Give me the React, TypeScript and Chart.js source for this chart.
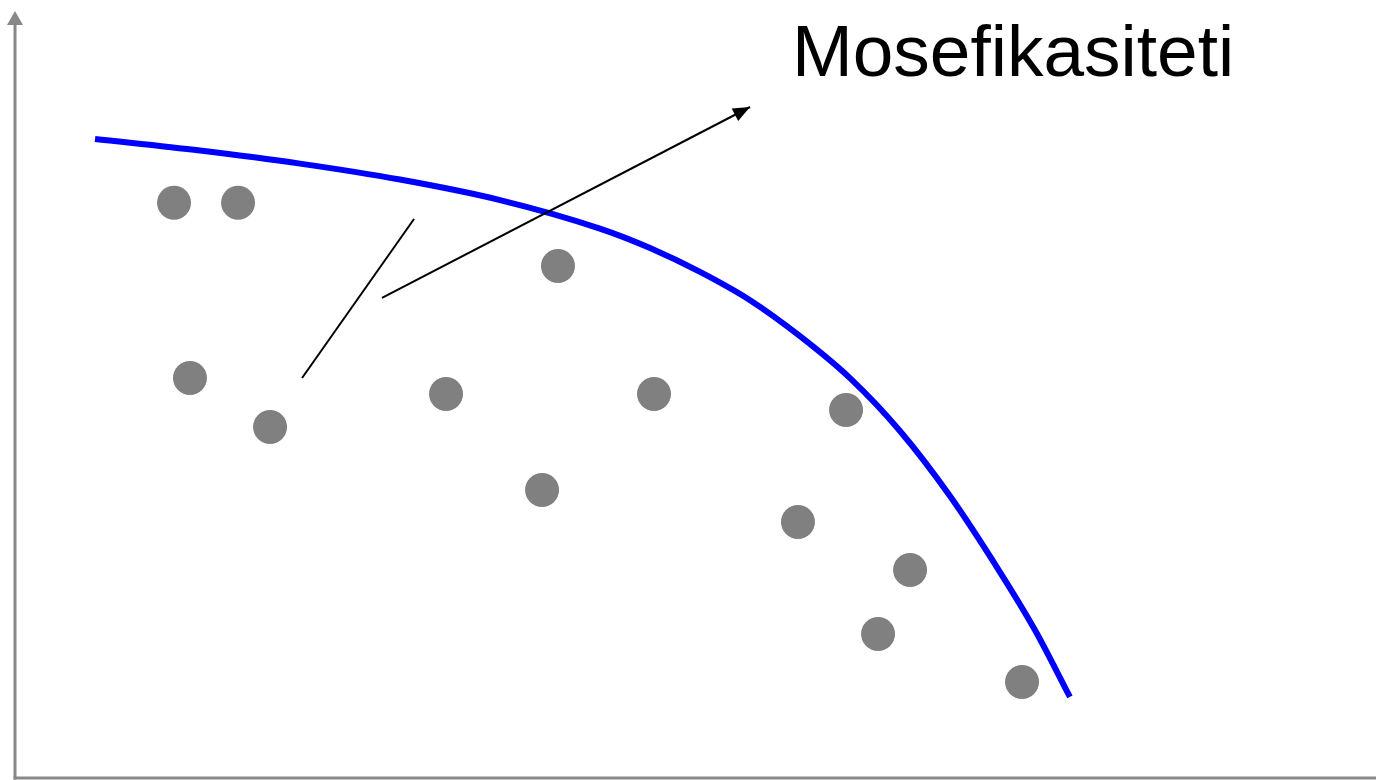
import React, { useEffect, useRef } from "react";
import { Chart, registerables } from "chart.js";

Chart.register(...registerables);

// Observed alternatives (gray dots), axis units 0–100
const DOT_X = [11.75, 16.45, 12.92, 18.8, 31.72, 39.94, 38.77, 46.99, 61.09, 57.56, 65.79, 63.44, 74.01];
const DOT_Y = [73.9, 73.9, 51.35, 45.05, 49.29, 65.77, 36.94, 49.29, 47.23, 32.82, 26.64, 18.4, 12.23];

// Frontier curve (blue)
const FRONTIER_X = [5.95, 13.66, 21.0, 28.34, 35.68, 43.02, 46.7, 50.37, 54.04, 57.71, 61.38, 65.05, 68.72, 72.39, 74.96, 77.53];
const FRONTIER_Y = [82.11, 80.62, 78.94, 76.89, 74.25, 70.58, 68.08, 65.0, 61.36, 56.73, 51.33, 44.53, 36.16, 26.38, 18.92, 10.3];

// Pointer line and arrow
const POINTER_X = [21.15, 29.37];
const POINTER_Y = [51.35, 71.81];
const ARROW_X = [27.02, 54.04];
const ARROW_Y = [61.65, 86.23];

// Label
const LABEL = "Mosefikasiteti";
const LABEL_X = 73.35;
const LABEL_Y = 90.2;

// Axis extent
const Y_AXIS_TIP = 98.6;

const zip = (xs: number[], ys: number[]) => xs.map((x, i) => ({ x, y: ys[i] }));

const axesPlugin = {
  id: "axesPlugin",
  beforeDatasetsDraw(chart: any) {
    const { ctx } = chart;
    const xs = chart.scales.x;
    const ys = chart.scales.y;
    const x0 = xs.getPixelForValue(0) + 1;
    const y0 = ys.getPixelForValue(0) + 1;
    const tip = ys.getPixelForValue(Y_AXIS_TIP);
    ctx.save();
    ctx.strokeStyle = "#888888";
    ctx.fillStyle = "#888888";
    ctx.lineWidth = 3;
    ctx.beginPath();
    ctx.moveTo(x0, y0 + 1.5);
    ctx.lineTo(x0, tip + 10);
    ctx.stroke();
    ctx.beginPath();
    ctx.moveTo(x0 - 1.5, y0);
    ctx.lineTo(chart.width, y0);
    ctx.stroke();
    ctx.beginPath();
    ctx.moveTo(x0, tip);
    ctx.lineTo(x0 - 8, tip + 14);
    ctx.lineTo(x0 + 8, tip + 14);
    ctx.closePath();
    ctx.fill();
    ctx.restore();
  },
  afterDatasetsDraw(chart: any) {
    const { ctx } = chart;
    const xs = chart.scales.x;
    const ys = chart.scales.y;
    // arrowhead
    const x1 = xs.getPixelForValue(ARROW_X[0]);
    const y1 = ys.getPixelForValue(ARROW_Y[0]);
    const x2 = xs.getPixelForValue(ARROW_X[1]);
    const y2 = ys.getPixelForValue(ARROW_Y[1]);
    const a = Math.atan2(y2 - y1, x2 - x1);
    const len = 17;
    const hw = 7;
    ctx.save();
    ctx.fillStyle = "#000000";
    ctx.beginPath();
    ctx.moveTo(x2, y2);
    const bx = x2 - len * Math.cos(a);
    const by = y2 - len * Math.sin(a);
    ctx.lineTo(bx + hw * Math.sin(a), by - hw * Math.cos(a));
    ctx.lineTo(bx - hw * Math.sin(a), by + hw * Math.cos(a));
    ctx.closePath();
    ctx.fill();
    // label
    ctx.font = '73px "Liberation Sans", Arial, sans-serif';
    ctx.textAlign = "center";
    ctx.textBaseline = "alphabetic";
    ctx.fillText(LABEL, xs.getPixelForValue(LABEL_X), ys.getPixelForValue(LABEL_Y));
    ctx.restore();
  },
};

export default function App() {
  const ref = useRef<HTMLCanvasElement | null>(null);
  useEffect(() => {
    if (!ref.current) return;
    const chart = new Chart(ref.current, {
      type: "scatter",
      data: {
        datasets: [
          {
            data: zip(POINTER_X, POINTER_Y),
            showLine: true,
            borderColor: "#000000",
            borderWidth: 2,
            pointRadius: 0,
            order: -1,
            clip: false,
          } as any,
          {
            data: zip(ARROW_X, ARROW_Y),
            showLine: true,
            borderColor: "#000000",
            borderWidth: 2,
            pointRadius: 0,
            order: -1,
            clip: false,
          } as any,
          {
            data: zip(FRONTIER_X, FRONTIER_Y),
            showLine: true,
            borderColor: "#0000ff",
            borderWidth: 6,
            borderCapStyle: "butt",
            cubicInterpolationMode: "monotone",
            pointRadius: 0,
            order: 0,
            clip: false,
          } as any,
          {
            data: zip(DOT_X, DOT_Y),
            backgroundColor: "#808080",
            borderWidth: 0,
            pointRadius: 17,
            pointHoverRadius: 17,
            order: 1,
            clip: false,
          } as any,
        ],
      },
      options: {
        animation: false,
        responsive: false,
        events: [],
        layout: { autoPadding: false, padding: { left: 14, bottom: 3, top: 0, right: 0 } },
        scales: {
          x: { type: "linear", min: 0, max: 100, display: false },
          y: { type: "linear", min: 0, max: 100, display: false },
        },
        plugins: {
          legend: { display: false },
          tooltip: { enabled: false },
          title: { display: false },
        },
      } as any,
      plugins: [axesPlugin],
    });
    return () => chart.destroy();
  }, []);
  return (
    <div style={{ position: "fixed", left: 0, top: 0, width: 1376, height: 780, background: "#ffffff" }}>
      <canvas ref={ref} width={1376} height={780} style={{ display: "block" }} />
    </div>
  );
}
